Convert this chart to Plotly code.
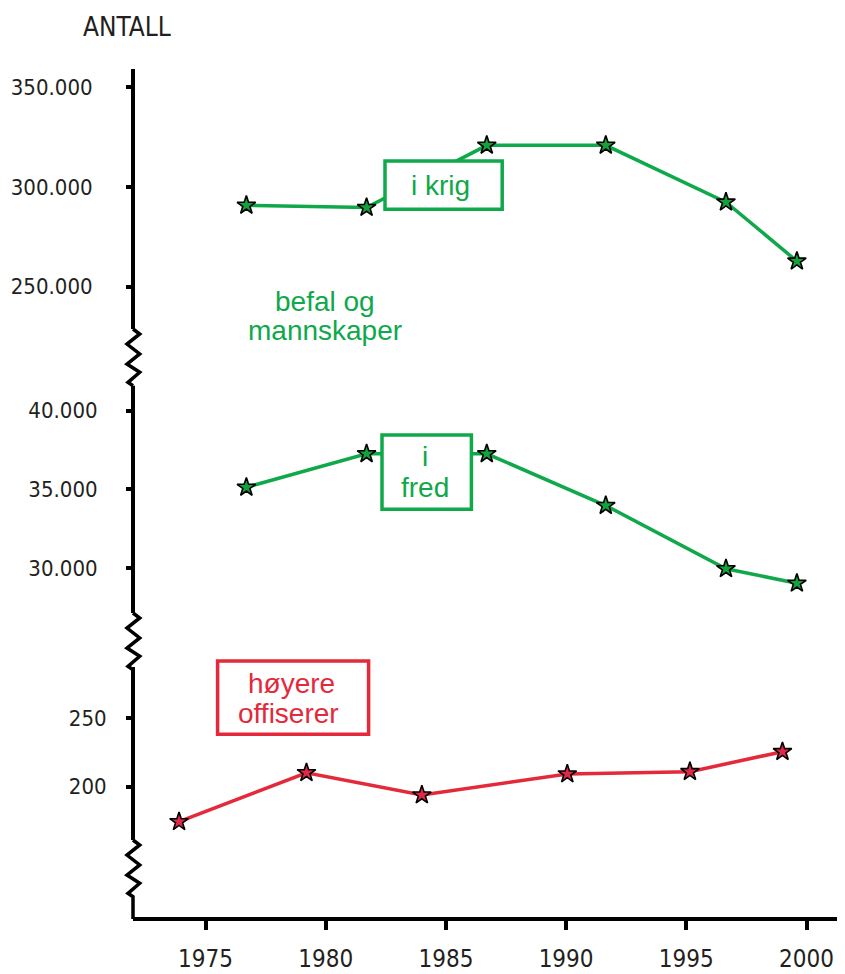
import plotly.graph_objects as go

# ---------------- data ----------------
years_mil = [1976.7, 1981.7, 1986.7, 1991.65, 1996.65, 1999.6]
krig = [290800, 289700, 320900, 320900, 292400, 262800]
fred = [35130, 37260, 37260, 33970, 29950, 29030]
years_off = [1973.9, 1979.2, 1984.0, 1990.05, 1995.15, 1999.0]
offiserer = [174.4, 210.2, 193.9, 209.3, 211.0, 225.6]

x_ticks = [1975, 1980, 1985, 1990, 1995, 2000]
top_ticks = [250000, 300000, 350000]
top_labels = ["250.000", "300.000", "350.000"]
mid_ticks = [30000, 35000, 40000]
mid_labels = ["30.000", "35.000", "40.000"]
low_ticks = [200, 250]
low_labels = ["200", "250"]

# ---------------- layout geometry ----------------
# measurements are in screen pixels; the page body adds an 8px margin
OFF = 8
W, H = 845 - OFF, 974 - OFF
AX_X = 133          # screen x of y axis
AX_Y = 919          # screen y of x axis
TOP_Y = 69          # screen y of top of y axis
ML = AX_X - OFF
MT = TOP_Y - OFF
MB = H - (AX_Y - OFF)
MR = 0
PW, PH = W - ML - MR, H - MT - MB


def px(x):
    return (x - AX_X) / PW


def py(y):
    return (AX_Y - y) / PH


def seg_range(v1, p1, v2, p2, top_px, bot_px):
    k = (v2 - v1) / (p2 - p1)
    return [v1 + (bot_px - p1) * k, v1 + (top_px - p1) * k]


PX_PER_YEAR = 24.04
x_left = 1975 - (205.5 - AX_X) / PX_PER_YEAR
x_range = [x_left, x_left + PW / PX_PER_YEAR]

seg_top = (TOP_Y, 329)
seg_mid = (386, 613)
seg_low = (667, 840)

r_top = seg_range(350000, 87.3, 250000, 286.7, *seg_top)
r_mid = seg_range(40000, 410.7, 30000, 568.0, *seg_mid)
r_low = seg_range(250, 718.3, 200, 786.7, *seg_low)

GREEN = "#0fa84a"
GREEN_FILL = "#14a23c"
RED = "#e3293a"
RED_FILL = "#e0284c"
TXT = "#231f20"
NARROW = "Liberation Sans Narrow, DejaVu Sans Condensed, Arial Narrow, sans-serif"
SANS = "Liberation Sans, Arial, Helvetica, sans-serif"

fig = go.Figure()

star_g = dict(symbol="star", size=14, color=GREEN_FILL, line=dict(color="black", width=1.6))
star_r = dict(symbol="star", size=14, color=RED_FILL, line=dict(color="black", width=1.6))

fig.add_trace(go.Scatter(x=years_mil, y=krig, mode="lines+markers", xaxis="x", yaxis="y",
                         line=dict(color=GREEN, width=3.5), marker=star_g, showlegend=False))
fig.add_trace(go.Scatter(x=years_mil, y=fred, mode="lines+markers", xaxis="x", yaxis="y2",
                         line=dict(color=GREEN, width=3.5), marker=star_g, showlegend=False))
fig.add_trace(go.Scatter(x=years_off, y=offiserer, mode="lines+markers", xaxis="x", yaxis="y3",
                         line=dict(color=RED, width=3.5), marker=star_r, showlegend=False))

tickfont = dict(family=NARROW, size=22, color=TXT)


def yax(seg, rng, tv, tt, standoff, ticks, labels, overlay=None):
    d = dict(domain=[py(seg[1]), py(seg[0])], range=rng, tickvals=tv, ticktext=tt,
             ticks=ticks, ticklen=5, tickwidth=3.5, tickcolor="black",
             showline=(overlay is None), linecolor="black", linewidth=4,
             showgrid=False, zeroline=False, anchor="free", position=0,
             showticklabels=labels, tickfont=tickfont, fixedrange=True)
    if labels:
        d["ticklabelstandoff"] = standoff
    if overlay:
        d["overlaying"] = overlay
    return d


layout = dict(
    width=W, height=H,
    margin=dict(l=ML, r=MR, t=MT, b=MB, autoexpand=False),
    paper_bgcolor="white", plot_bgcolor="white",
    showlegend=False,
    xaxis=dict(domain=[0, 1], range=x_range, tickvals=x_ticks, ticks="outside",
               ticklen=9, tickwidth=3.5, tickcolor="black", showline=True,
               linecolor="black", linewidth=4, showgrid=False, zeroline=False,
               anchor="free", position=0, tickfont=dict(family=NARROW, size=24, color=TXT),
               ticklabelstandoff=8, fixedrange=True),
    xaxis2=dict(domain=[0, 1], range=x_range, tickvals=x_ticks, ticks="inside",
                ticklen=6, tickwidth=3.5, tickcolor="black", showline=False,
                showgrid=False, zeroline=False, showticklabels=False,
                anchor="free", position=0, overlaying="x", fixedrange=True),
    yaxis=yax(seg_top, r_top, top_ticks, top_labels, 29, "outside", True),
    yaxis2=yax(seg_mid, r_mid, mid_ticks, mid_labels, 24, "outside", True),
    yaxis3=yax(seg_low, r_low, low_ticks, low_labels, 15, "outside", True),
    yaxis4=yax(seg_top, r_top, top_ticks, top_labels, 0, "inside", False, "y"),
    yaxis5=yax(seg_mid, r_mid, mid_ticks, mid_labels, 0, "inside", False, "y2"),
    yaxis6=yax(seg_low, r_low, low_ticks, low_labels, 0, "inside", False, "y3"),
)
fig.update_layout(**layout)

# ---------------- axis break zigzags ----------------
ZX = [0, 6.7, -6, 6.7, -6, 6.7, -5, 0]
ZY = [0, 5, 15, 25, 35, 43.3, 53.3, 56.7]


def zigzag(y_start, tail_to=None):
    pts = [(px(AX_X + dx), py(y_start + dy)) for dx, dy in zip(ZX, ZY)]
    if tail_to is not None:
        pts.append((px(AX_X), py(tail_to)))
    path = "M " + " L ".join(f"{a:.5f},{b:.5f}" for a, b in pts)
    return dict(type="path", xref="paper", yref="paper", path=path,
                line=dict(color="black", width=3.5), layer="above")


shapes = [zigzag(seg_top[1]), zigzag(seg_mid[1]), zigzag(seg_low[1], tail_to=AX_Y)]
shapes.append(dict(type="line", xref="paper", yref="paper", x0=0, x1=0,
                   y0=py(seg_top[1] + 56.7), y1=py(seg_mid[0]),
                   line=dict(color="black", width=4)))


def box(x0, y0, x1, y1, color):
    return dict(type="rect", xref="paper", yref="paper",
                x0=px(x0 + 1.7), x1=px(x1 - 1.7), y0=py(y1 - 1.7), y1=py(y0 + 1.7),
                line=dict(color=color, width=3.5), fillcolor="white", layer="above")


shapes += [
    box(383.3, 159.3, 503.9, 211.0, GREEN),
    box(380.3, 433.3, 473.1, 511.0, GREEN),
    box(215.9, 659.3, 370.3, 736.0, RED),
]
fig.update_layout(shapes=shapes)

# ---------------- text labels ----------------
ann = []


def label(text, xc, yc, color, size=28, family=SANS):
    ann.append(dict(text=text, xref="paper", yref="paper", x=px(xc), y=py(yc),
                    xanchor="center", yanchor="middle", showarrow=False,
                    font=dict(family=family, size=size, color=color)))


label("ANTALL", 127, 27, TXT, size=26, family=NARROW)
label("i krig", 440.3, 185.3, GREEN)
label("befal og", 325, 301.5, GREEN)
label("mannskaper", 325, 330.5, GREEN)
label("i", 424.5, 457, GREEN)
label("fred", 424.5, 487.3, GREEN)
label("høyere", 291, 683, RED)
label("offiserer", 288.5, 713, RED)
fig.update_layout(annotations=ann)

fig.write_html("out.html")
